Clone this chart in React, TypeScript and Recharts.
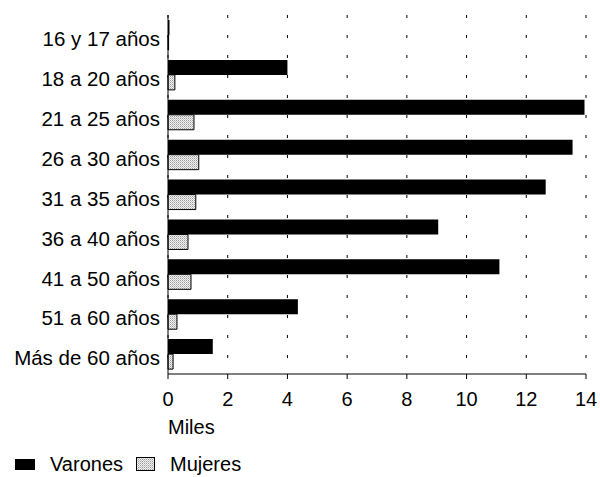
import React from "react";
import { BarChart, Bar, XAxis, YAxis, CartesianGrid, Legend, Label } from "recharts";

const grupos = [
  "16 y 17 años",
  "18 a 20 años",
  "21 a 25 años",
  "26 a 30 años",
  "31 a 35 años",
  "36 a 40 años",
  "41 a 50 años",
  "51 a 60 años",
  "Más de 60 años",
];
const varones = [0.05, 4.0, 13.95, 13.55, 12.65, 9.05, 11.1, 4.35, 1.5];
const mujeres = [0.02, 0.23, 0.87, 1.03, 0.93, 0.67, 0.77, 0.3, 0.17];
const xTicks = [0, 2, 4, 6, 8, 10, 12, 14];

const data = grupos.map((g, i) => ({ grupo: g, varones: varones[i], mujeres: mujeres[i] }));

const FONT = "'Liberation Sans', Arial, sans-serif";

// fine gray hatch used for the "Mujeres" bars
function Hatch({ id }: { id: string }) {
  return (
    <pattern id={id} width="2" height="2" patternUnits="userSpaceOnUse">
      <rect width="2" height="2" fill="#f2f2f2" />
      <rect width="1" height="1" fill="#9a9a9a" />
      <rect x="1" y="1" width="1" height="1" fill="#c4c4c4" />
    </pattern>
  );
}

function LegendBox() {
  return (
    <div style={{ display: "flex", alignItems: "center", fontFamily: FONT, fontSize: 20, color: "#000", height: 24 }}>
      <svg width={20} height={13} style={{ marginLeft: 15 }}>
        <rect x={0} y={1} width={20} height={11} fill="#000" />
      </svg>
      <span style={{ marginLeft: 15 }}>Varones</span>
      <svg width={20} height={15} style={{ marginLeft: 13 }}>
        <defs>
          <Hatch id="hatchLeg" />
        </defs>
        <rect x={0.5} y={0.5} width={18} height={13} fill="url(#hatchLeg)" stroke="#000" strokeWidth={1} />
      </svg>
      <span style={{ marginLeft: 14 }}>Mujeres</span>
    </div>
  );
}

export default function App() {
  return (
    <div style={{ position: "absolute", left: 0, top: 0, background: "#fff" }}>
      <BarChart
        width={600}
        height={477}
        data={data}
        layout="vertical"
        margin={{ top: 15, right: 14, left: 0, bottom: 19 }}
        barGap={0}
        barSize={15}
      >
        <defs>
          <Hatch id="hatch" />
        </defs>
        <CartesianGrid horizontal={false} stroke="#000" strokeDasharray="3 17" />
        <XAxis
          type="number"
          domain={[0, 14]}
          ticks={xTicks}
          interval={0}
          height={60}
          stroke="#000"
          tickSize={5}
          tickMargin={13}
          tick={{ fill: "#000", fontSize: 20, fontFamily: FONT }}
        >
          <Label value="Miles" position="insideBottomLeft" offset={0} fill="#000" fontSize={20} fontFamily={FONT} />
        </XAxis>
        <YAxis
          type="category"
          dataKey="grupo"
          width={168}
          stroke="#000"
          tickLine={false}
          tick={{ fill: "#000", fontSize: 20.5, fontFamily: FONT, dy: 4 }}
        />
        <Legend verticalAlign="bottom" align="left" content={<LegendBox />} wrapperStyle={{ left: 0, bottom: 1 }} />
        <Bar dataKey="varones" name="Varones" fill="#000" isAnimationActive={false} />
        <Bar dataKey="mujeres" name="Mujeres" fill="url(#hatch)" stroke="#000" strokeWidth={1} isAnimationActive={false} />
      </BarChart>
    </div>
  );
}
